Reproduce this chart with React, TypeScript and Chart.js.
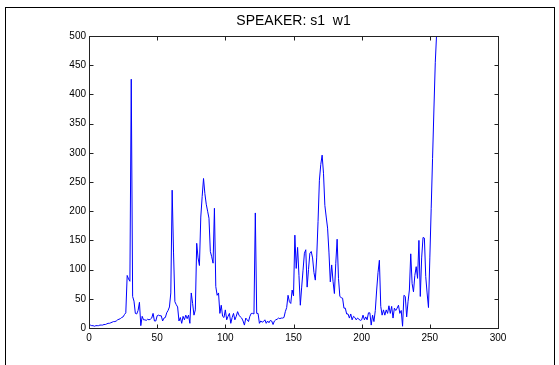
import React, { useEffect, useRef } from "react";
import { Chart, registerables } from "chart.js";

Chart.register(...registerables);

const TITLE = "SPEAKER: s1  w1";
const X_TICKS = [0, 50, 100, 150, 200, 250, 300];
const Y_TICKS = [0, 50, 100, 150, 200, 250, 300, 350, 400, 450, 500];

// spectrum magnitude, one value per bin (bin index 0..256)
const magnitude = [
  6, 5, 4, 4, 3, 4, 4, 4, 5, 5,
  5, 6, 6, 7, 8, 8, 9, 10, 11, 11,
  12, 14, 15, 16, 18, 19, 23, 26, 90, 84,
  80, 426, 54, 46, 25, 24, 30, 44, 4, 20,
  14, 14, 13, 15, 14, 15, 17, 25, 12, 12,
  21, 22, 21, 21, 12, 17, 18, 26, 30, 36,
  60, 236, 130, 45, 40, 36, 12, 18, 8, 20,
  14, 22, 16, 22, 8, 60, 42, 22, 31, 145,
  120, 107, 190, 225, 256, 230, 212, 200, 188, 131,
  122, 111, 205, 71, 56, 60, 25, 39, 20, 18,
  31, 14, 20, 25, 8, 18, 25, 14, 20, 28,
  22, 19, 17, 12, 5, 17, 14, 11, 20, 25,
  25, 24, 197, 25, 25, 8, 12, 10, 11, 14,
  8, 12, 9, 13, 12, 6, 12, 14, 15, 17,
  16, 17, 17, 18, 28, 35, 56, 45, 42, 65,
  55, 159, 102, 138, 90, 39, 70, 99, 128, 134,
  70, 100, 128, 131, 120, 95, 82, 120, 182, 253,
  280, 296, 265, 210, 190, 171, 130, 79, 108, 80,
  59, 110, 152, 85, 54, 52, 51, 34, 34, 24,
  24, 17, 24, 14, 20, 18, 14, 17, 15, 13,
  14, 22, 14, 19, 14, 26, 26, 5, 22, 11,
  30, 65, 95, 116, 37, 22, 31, 22, 31, 25,
  38, 25, 37, 17, 34, 30, 34, 39, 25, 30,
  3, 56, 54, 19, 45, 65, 127, 76, 62, 90,
  105, 85, 150, 54, 120, 155, 154, 88, 60, 35,
  120, 205, 290, 375, 455, 505, 545,
];

const FONT = "'Liberation Sans', Arial, Helvetica, sans-serif";

const framePlugin = {
  id: "frame",
  beforeDraw(chart: any) {
    const ctx = chart.ctx;
    ctx.save();
    ctx.fillStyle = "#ffffff";
    ctx.fillRect(0, 0, chart.width, chart.height);
    ctx.strokeStyle = "#000000";
    ctx.lineWidth = 1;
    ctx.strokeRect(5.5, 7.5, 549, 420);
    ctx.restore();
  },
  afterDraw(chart: any) {
    const ctx = chart.ctx;
    const { left, right, top, bottom } = chart.chartArea;
    const xs = chart.scales.x;
    const ys = chart.scales.y;
    const L = Math.round(left) + 0.5;
    const R = Math.round(right) + 0.5;
    const T = Math.round(top) + 0.5;
    const B = Math.round(bottom) + 0.5;
    ctx.save();
    ctx.strokeStyle = "#222222";
    ctx.lineWidth = 1;
    ctx.strokeRect(L, T, R - L, B - T);
    ctx.beginPath();
    const tl = 4;
    X_TICKS.forEach((v) => {
      const px = Math.round(xs.getPixelForValue(v)) + 0.5;
      ctx.moveTo(px, B);
      ctx.lineTo(px, B - tl);
      ctx.moveTo(px, T);
      ctx.lineTo(px, T + tl);
    });
    Y_TICKS.forEach((v) => {
      const py = Math.round(ys.getPixelForValue(v)) + 0.5;
      ctx.moveTo(L, py);
      ctx.lineTo(L + tl, py);
      ctx.moveTo(R, py);
      ctx.lineTo(R - tl, py);
    });
    ctx.stroke();
    // title centred over the plot area
    ctx.fillStyle = "#000000";
    ctx.font = `14px ${FONT}`;
    ctx.textAlign = "center";
    ctx.textBaseline = "middle";
    ctx.fillText(TITLE, (left + right) / 2, 21);
    ctx.restore();
  },
};

export default function App() {
  const ref = useRef<HTMLCanvasElement | null>(null);

  useEffect(() => {
    if (!ref.current) return;
    const points = magnitude.map((y, i) => ({ x: i, y }));
    const chart = new Chart(ref.current, {
      type: "line",
      data: {
        datasets: [
          {
            data: points,
            borderColor: "#0000ff",
            borderWidth: 1,
            pointRadius: 0,
            tension: 0,
            fill: false,
          },
        ],
      },
      options: {
        responsive: false,
        animation: false,
        layout: { padding: { left: 0, right: 61, top: 36, bottom: 0 } },
        plugins: {
          legend: { display: false },
          tooltip: { enabled: false },
          title: { display: false },
        },
        scales: {
          x: {
            type: "linear",
            min: 0,
            max: 300,
            afterBuildTicks: (s: any) => {
              s.ticks = X_TICKS.map((v) => ({ value: v }));
            },
            ticks: {
              color: "#000000",
              font: { family: FONT, size: 10 },
              padding: 4,
              maxRotation: 0,
              autoSkip: false,
            },
            grid: { display: false, drawTicks: false, tickLength: 0 },
            border: { display: false },
            afterFit: (s: any) => {
              s.height = 37;
            },
          },
          y: {
            type: "linear",
            min: 0,
            max: 500,
            afterBuildTicks: (s: any) => {
              s.ticks = Y_TICKS.map((v) => ({ value: v }));
            },
            ticks: {
              color: "#000000",
              font: { family: FONT, size: 10 },
              padding: 3,
              autoSkip: false,
            },
            grid: { display: false, drawTicks: false, tickLength: 0 },
            border: { display: false },
            afterFit: (s: any) => {
              s.width = 89;
            },
          },
        },
      },
      plugins: [framePlugin],
    });
    return () => chart.destroy();
  }, []);

  return (
    <div style={{ position: "fixed", left: 0, top: 0, width: 559, height: 365, background: "#fff" }}>
      <canvas ref={ref} width={559} height={365} style={{ display: "block", width: 559, height: 365 }} />
    </div>
  );
}
